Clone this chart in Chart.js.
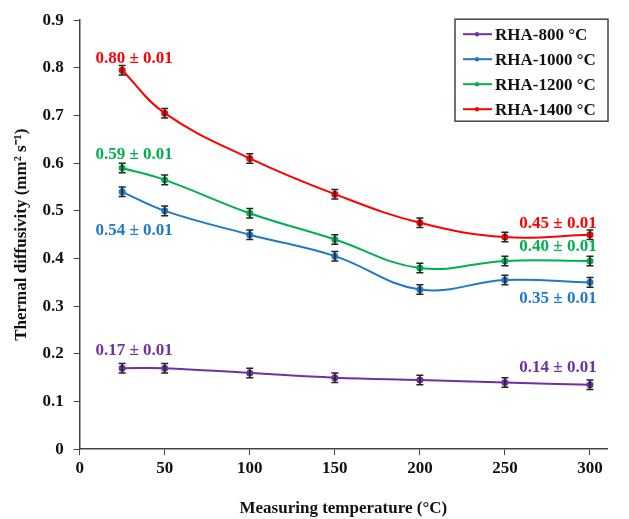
<!DOCTYPE html>
<html><head><meta charset="utf-8">
<script src="https://cdn.jsdelivr.net/npm/chart.js@4/dist/chart.umd.min.js"></script>
<style>html,body{margin:0;padding:0;background:#fff}#wrap{width:629px;height:519px}</style>
</head><body><div id="wrap"><canvas id="c" width="629" height="519"></canvas></div>
<script>
const temperatures = [25, 50, 100, 150, 200, 250, 300];
const seriesNames = ['RHA-800 °C', 'RHA-1000 °C', 'RHA-1200 °C', 'RHA-1400 °C'];
const rha800  = [0.17, 0.17, 0.16, 0.15, 0.145, 0.14, 0.135];
const rha1000 = [0.54, 0.50, 0.45, 0.405, 0.335, 0.355, 0.35];
const rha1200 = [0.59, 0.565, 0.495, 0.44, 0.38, 0.395, 0.395];
const rha1400 = [0.795, 0.705, 0.61, 0.535, 0.475, 0.445, 0.45];
const errorValue = 0.01;
const startLabels = ['0.17 ± 0.01', '0.54 ± 0.01', '0.59 ± 0.01', '0.80 ± 0.01'];
const endLabels   = ['0.14 ± 0.01', '0.35 ± 0.01', '0.40 ± 0.01', '0.45 ± 0.01'];
const yTicks = [0, 0.1, 0.2, 0.3, 0.4, 0.5, 0.6, 0.7, 0.8, 0.9];
const xTicks = [0, 50, 100, 150, 200, 250, 300];

const colors = ['#7030A0', '#1F78C8', '#00B050', '#FF0000'];
const allSeries = [rha800, rha1000, rha1200, rha1400];
const FONT = '"Liberation Serif", "Times New Roman", serif';

const datasets = allSeries.map((vals, i) => ({
  label: seriesNames[i],
  data: temperatures.map((t, j) => ({x: t, y: vals[j]})),
  borderColor: colors[i],
  backgroundColor: colors[i],
  borderWidth: 2,
  pointRadius: 2.5,
  pointHoverRadius: 2.5,
  tension: 0.4,
  fill: false
}));

// start/end label offsets (px) relative to first/last point
const startOffsets = [[12, -18], [12, 39], [12, -13], [12, -12]];
const endOffsets   = [[-32, -17], [-32, 16], [-32, -14], [-32, -11]];

const errorBars = {
  id: 'errorBars',
  afterDatasetsDraw(chart) {
    const {ctx, scales: {x, y}} = chart;
    ctx.save();
    ctx.strokeStyle = '#222';
    ctx.lineWidth = 1.5;
    chart.data.datasets.forEach(ds => {
      ds.data.forEach(p => {
        const px = x.getPixelForValue(p.x);
        const top = y.getPixelForValue(p.y + errorValue);
        const bot = y.getPixelForValue(p.y - errorValue);
        ctx.beginPath();
        ctx.moveTo(px, top); ctx.lineTo(px, bot);
        ctx.moveTo(px - 3.5, top); ctx.lineTo(px + 3.5, top);
        ctx.moveTo(px - 3.5, bot); ctx.lineTo(px + 3.5, bot);
        ctx.stroke();
      });
    });
    ctx.restore();
  }
};

const valueLabels = {
  id: 'valueLabels',
  afterDatasetsDraw(chart) {
    const {ctx, scales: {x, y}} = chart;
    ctx.save();
    ctx.font = 'bold 17px ' + FONT;
    ctx.textAlign = 'center';
    ctx.textBaseline = 'middle';
    chart.data.datasets.forEach((ds, i) => {
      const first = ds.data[0], last = ds.data[ds.data.length - 1];
      ctx.fillStyle = colors[i];
      ctx.fillText(startLabels[i], x.getPixelForValue(first.x) + startOffsets[i][0], y.getPixelForValue(first.y) + startOffsets[i][1]);
      ctx.fillText(endLabels[i], x.getPixelForValue(last.x) + endOffsets[i][0], y.getPixelForValue(last.y) + endOffsets[i][1]);
    });
    ctx.restore();
  }
};

const boxLegend = {
  id: 'boxLegend',
  afterDraw(chart) {
    const {ctx, chartArea} = chart;
    const left = chartArea.right - 152, top = chartArea.top - 1, w = 153, h = 102;
    ctx.save();
    ctx.fillStyle = '#fff';
    ctx.fillRect(left, top, w, h);
    ctx.strokeStyle = '#444';
    ctx.lineWidth = 1.5;
    ctx.strokeRect(left, top, w, h);
    ctx.font = 'bold 17px ' + FONT;
    ctx.textBaseline = 'middle';
    ctx.textAlign = 'left';
    chart.data.datasets.forEach((ds, i) => {
      const cy = top + 15 + i * 25;
      ctx.strokeStyle = ds.borderColor;
      ctx.lineWidth = 2;
      ctx.beginPath(); ctx.moveTo(left + 8, cy); ctx.lineTo(left + 37, cy); ctx.stroke();
      ctx.fillStyle = ds.borderColor;
      ctx.beginPath(); ctx.arc(left + 22, cy, 2.2, 0, Math.PI * 2); ctx.fill();
      ctx.fillStyle = '#111';
      ctx.fillText(ds.label, left + 40, cy + 1);
    });
    ctx.restore();
  }
};

new Chart(document.getElementById('c'), {
  type: 'line',
  data: {datasets},
  plugins: [errorBars, valueLabels, boxLegend],
  options: {
    responsive: false,
    animation: false,
    events: [],
    layout: {padding: {top: 9, right: 22, left: 0, bottom: 0}},
    plugins: {legend: {display: false}, tooltip: {enabled: false}},
    scales: {
      x: {
        type: 'linear', min: 0, max: 310,
        afterBuildTicks: s => { s.ticks = xTicks.map(v => ({value: v})); },
        border: {color: '#444', width: 1.5},
        grid: {display: true, drawOnChartArea: false, tickLength: 6, color: '#444'},
        ticks: {color: '#111', font: {family: FONT, size: 17, weight: 'bold'}, padding: 3, maxRotation: 0},
        title: {display: true, text: 'Measuring temperature (°C)', color: '#111', font: {family: FONT, size: 17, weight: 'bold'}, padding: {top: 17, bottom: 0}}
      },
      y: {
        type: 'linear', min: 0, max: 0.9,
        afterBuildTicks: s => { s.ticks = yTicks.map(v => ({value: v})); },
        border: {color: '#444', width: 1.5},
        grid: {display: true, drawOnChartArea: false, tickLength: 6, color: '#444'},
        ticks: {color: '#111', font: {family: FONT, size: 17, weight: 'bold'}, padding: 10,
          callback: v => String(Math.round(v * 10) / 10)},
        title: {display: true, text: 'Thermal diffusivity (mm² s⁻¹)', color: '#111', font: {family: FONT, size: 17, weight: 'bold'}, padding: {top: 11, bottom: 1}}
      }
    }
  }
});
</script>
</body></html>
